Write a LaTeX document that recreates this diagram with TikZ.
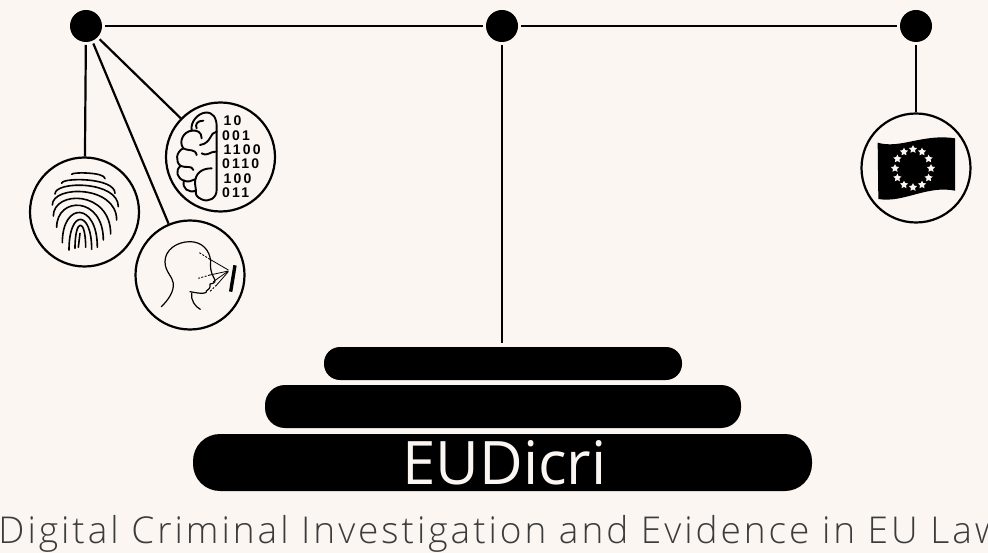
\documentclass[tikz,border=0pt]{standalone}
\usepackage{fontspec}
\setmainfont{Open Sans Light}
\newfontfamily\capfont[LetterSpace=8]{Open Sans Light}
\newfontfamily\logofont{Open Sans}
\newfontfamily\digitfont[LetterSpace=16]{Liberation Sans}
\usetikzlibrary{shapes.geometric,shapes.misc}
\definecolor{paper}{HTML}{FBF6F2}
\definecolor{subtle}{HTML}{3C3C3C}
\tikzset{
  pivot/.style={circle,fill=black,draw=none,minimum size=32pt,inner sep=0pt,outer sep=3pt},
  medal/.style={circle,draw=black,line width=2.2pt,minimum size=109pt,inner sep=0pt},
  beam/.style={draw=black,line width=2.6pt},
  stair/.style={rectangle,rounded corners=#1,fill=black,inner sep=0pt},
  thinink/.style={draw=black,line width=1.6pt,line cap=round,line join=round},
  icon/.style={shift={(#1)},scale=1/3},
  eustar/.style={star,star points=5,star point ratio=2,fill=paper,inner sep=0pt,minimum size=8.5pt},
  bit/.style={anchor=west,inner sep=0pt,font=\digitfont\bfseries\fontsize{14}{14}\selectfont}
}
\begin{document}
\begin{tikzpicture}[x=1pt,y=-1pt]
\useasboundingbox (0,0) rectangle (988,553);
\fill[paper] (0,0) rectangle (988,553);
\clip (0,0) rectangle (988,553);

% scale pivots
\node[pivot] (pl) at (86,26) {};
\node[pivot] (pc) at (502,26) {};
\node[pivot] (pr) at (916,26) {};

% medals
\node[medal] (finger) at (84.5,212) {};
\node[medal] (face) at (190,275) {};
\node[medal] (brain) at (220.5,157) {};
\node[medal] (flag) at (916,168) {};

% base
\node[stair=16pt,minimum width=358pt,minimum height=33pt] (s1) at (503,363.5) {};
\node[stair=20pt,minimum width=476pt,minimum height=43pt] (s2) at (503,406.5) {};
\node[stair=27pt,minimum width=619pt,minimum height=57pt,text=paper] (s3) at (502.5,462.5)
  {\hspace{4pt}\fontsize{60}{60}\logofont\selectfont\raisebox{-1pt}{EUDicri}};
\coordinate (stem) at (502,343);

% connectors
\draw[beam] (pl) -- (pc);
\draw[beam] (pc) -- (pr);
\draw[beam] (pc) -- (stem);
\draw[beam] (pr) -- (flag);
\draw[beam,line width=2.2pt] (pl) -- (finger);
\draw[beam,line width=2.2pt] (pl) -- (face);
\draw[beam,line width=2.2pt] (pl) -- (brain);

% caption
\node[text=subtle,anchor=base,inner sep=0pt] (cap) at (500,543)
  {\capfont\fontsize{37}{37}\selectfont Digital Criminal Investigation and Evidence in EU Law};

% fingerprint
\begin{scope}[icon={20,90}]
\foreach \lx/\ly/\cy/\rx/\ry in {
  165/475/383/197/472, 147/480/358/215/478, 127/458/335/232/472,
  110/412/318/250/450, 100/378/300/272/432, 97/345/285/290/390,
  105/312/272/295/350, 125/280/262/285/310, 155/253/246/255/266}
  \draw[thinink] (\lx,\ly) .. controls (\lx,\cy) and (\rx,\cy) .. (\rx,\ry);
\draw[thinink] (180,430) -- (175,472);
\end{scope}

% brain
\begin{scope}[icon={20,90}]
\draw[thinink,line width=1.9pt]
  (555,68) .. controls (580,65) and (590,85) .. (590,110)
  -- (590,300)
  .. controls (590,325) and (565,338) .. (545,328)
  .. controls (530,322) and (525,312) .. (528,302)
  .. controls (505,310) and (485,295) .. (492,272)
  .. controls (470,265) and (465,240) .. (482,228)
  .. controls (465,215) and (468,185) .. (490,175)
  .. controls (475,155) and (490,125) .. (515,122)
  .. controls (510,95) and (535,70) .. (555,68);
\draw[thinink,line width=1.9pt] (515,122) .. controls (530,120) and (545,125) .. (545,145);
\draw[thinink,line width=1.9pt] (550,92) .. controls (530,92) and (525,105) .. (530,115);
\draw[thinink,line width=1.9pt] (590,125) .. controls (570,125) and (575,160) .. (540,165);
\draw[thinink,line width=1.9pt] (490,175) .. controls (510,185) and (525,175) .. (530,195);
\draw[thinink,line width=1.9pt] (590,185) .. controls (565,185) and (565,200) .. (545,190);
\draw[thinink,line width=1.9pt] (482,228) .. controls (500,235) and (515,225) .. (520,240);
\draw[thinink,line width=1.9pt] (575,235) .. controls (545,235) and (525,250) .. (525,280) -- (528,302);
\draw[thinink,line width=1.9pt] (492,272) .. controls (505,278) and (515,272) .. (525,268);
\node[bit] (b1) at (610,93) {10};
\node[bit] (b2) at (606,136) {001};
\node[bit] (b3) at (610,179) {1100};
\node[bit] (b4) at (606,222) {0110};
\node[bit] (b5) at (610,265) {100};
\node[bit] (b6) at (606,308) {011};
\end{scope}

% face
\begin{scope}[icon={20,90}]
\draw[thinink,line width=1.2pt]
  (424,650) .. controls (445,630) and (462,605) .. (460,580)
  .. controls (458,560) and (435,545) .. (435,515)
  .. controls (435,480) and (470,455) .. (510,455)
  .. controls (545,455) and (570,480) .. (572,515)
  .. controls (570,530) and (572,545) .. (580,560)
  .. controls (590,575) and (585,580) .. (570,582)
  .. controls (572,595) and (565,600) .. (560,602)
  .. controls (562,612) and (545,612) .. (510,605);
\draw[thinink,line width=1.2pt] (515,610) .. controls (512,630) and (525,650) .. (541,658);
\draw[line width=3.4pt,draw=black] (645,526) -- (632,605);
\draw[line width=.8pt] (625,540) -- (570,508);
\draw[line width=.8pt] (625,543) -- (570,555);
\draw[line width=.8pt] (625,543) -- (580,575);
\draw[line width=.8pt] (625,545) -- (590,585);
\draw[line width=.9pt,dash pattern=on 2pt off 1.5pt] (570,508) -- (538,488);
\draw[line width=.9pt,dash pattern=on 2pt off 1.5pt] (570,555) -- (535,565);
\draw[line width=.9pt,dash pattern=on 2pt off 1.5pt] (590,585) -- (568,606);
\end{scope}

% flag
\begin{scope}[icon={850,100}]
\fill[black] (83,128)
  .. controls (150,148) and (220,100) .. (315,115)
  -- (315,272)
  .. controls (230,255) and (160,310) .. (85,297) -- cycle;
\foreach \i in {0,...,11}
  \node[eustar] (st\i) at ({189+54*cos(30*\i)},{205+57*sin(30*\i)}) {};
\end{scope}
\end{tikzpicture}
\end{document}
